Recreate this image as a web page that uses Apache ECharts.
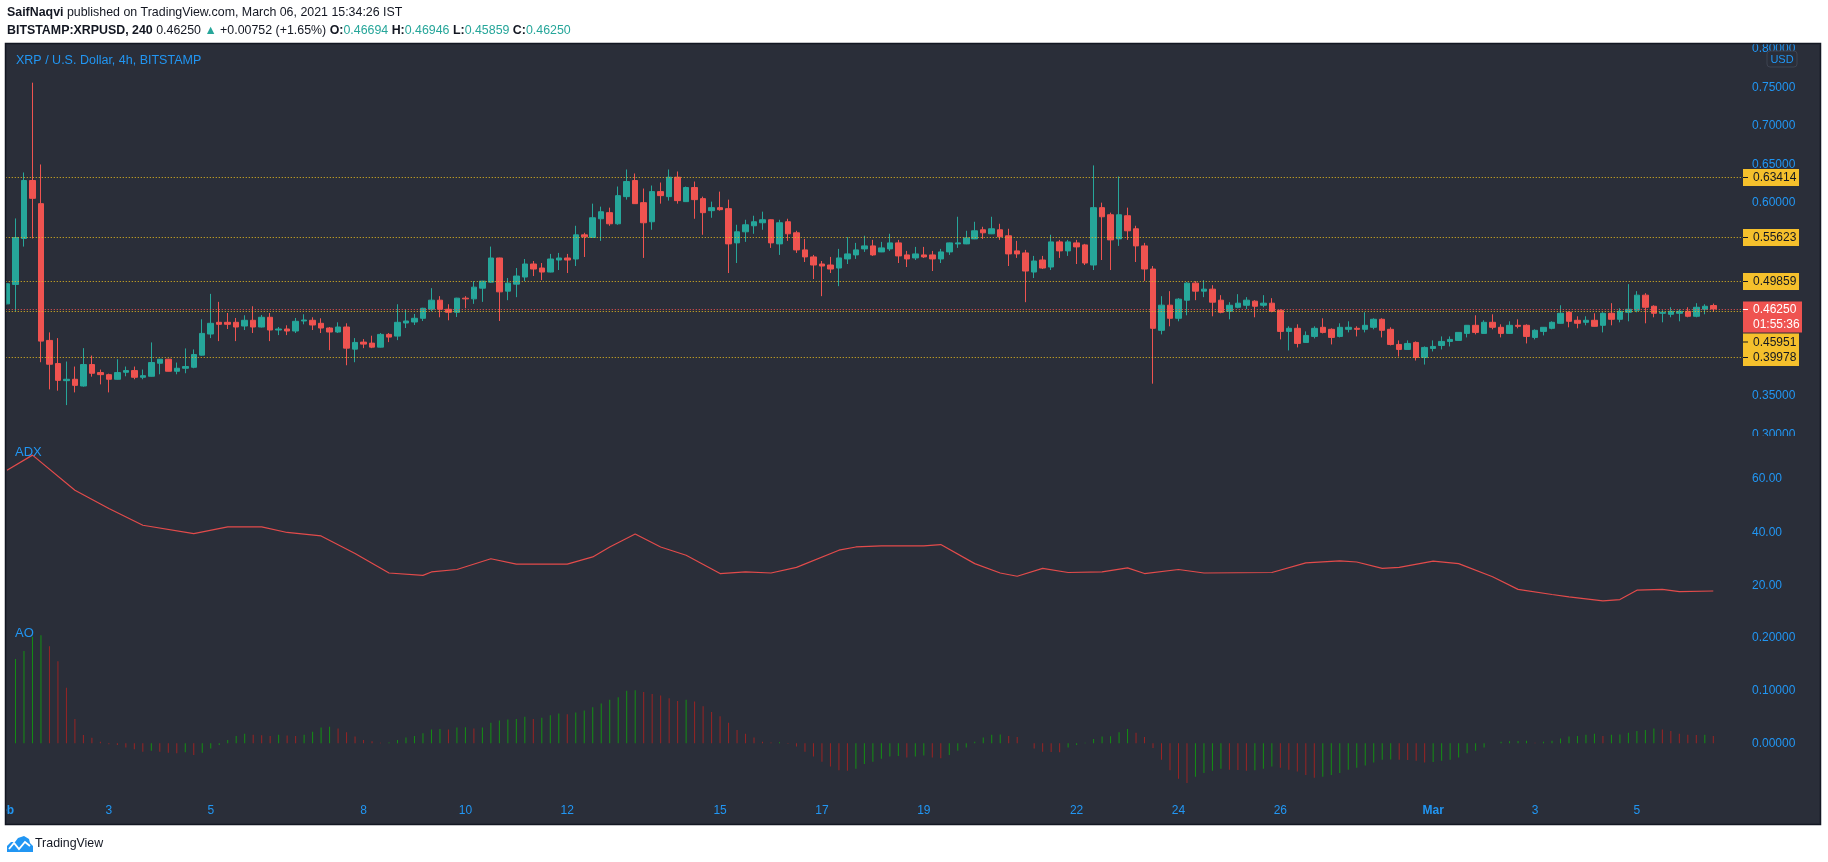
<!DOCTYPE html>
<html><head><meta charset="utf-8">
<script src="https://cdn.jsdelivr.net/npm/echarts@6/dist/echarts.min.js"></script>
<style>html,body{margin:0;padding:0;background:#fff;overflow:hidden}#c{width:1828px;height:862px}</style>
</head><body><div id="c"></div>
<script>
// ---------- DATA ----------
// 4h candles, Feb 1 2021 .. Mar 6 2021 : [open, high, low, close]
const candles = [
[0.4691,0.4960,0.4685,0.4952],[0.4943,0.5799,0.4595,0.5552],[0.5539,0.6395,0.5434,0.6291],[0.6291,0.7560,0.5539,0.6060],[0.5991,0.6499,0.3934,0.4208],
[0.4217,0.4321,0.3582,0.3908],[0.3917,0.4247,0.3565,0.3699],[0.3695,0.3943,0.3378,0.3713],[0.3713,0.3878,0.3543,0.3634],[0.3626,0.4117,0.3617,0.3904],
[0.3904,0.4021,0.3747,0.3791],[0.3800,0.3839,0.3647,0.3773],[0.3773,0.3786,0.3543,0.3713],[0.3713,0.3973,0.3708,0.3800],[0.3804,0.3878,0.3752,0.3826],
[0.3826,0.3878,0.3713,0.3739],[0.3739,0.3839,0.3713,0.3760],[0.3752,0.4191,0.3748,0.3930],[0.3921,0.3975,0.3778,0.3973],[0.3973,0.3978,0.3815,0.3817],
[0.3817,0.3930,0.3778,0.3856],[0.3856,0.4113,0.3791,0.3878],[0.3869,0.4100,0.3856,0.4034],[0.4026,0.4491,0.4020,0.4308],[0.4300,0.4821,0.4247,0.4439],
[0.4452,0.4717,0.4208,0.4426],[0.4452,0.4573,0.4365,0.4426],[0.4452,0.4508,0.4208,0.4391],[0.4404,0.4543,0.4352,0.4478],[0.4478,0.4660,0.4313,0.4391],
[0.4391,0.4547,0.4385,0.4517],[0.4517,0.4573,0.4208,0.4352],[0.4352,0.4391,0.4286,0.4365],[0.4365,0.4413,0.4286,0.4339],[0.4339,0.4508,0.4313,0.4465],
[0.4469,0.4556,0.4426,0.4482],[0.4478,0.4517,0.4352,0.4417],[0.4439,0.4504,0.4313,0.4378],[0.4378,0.4391,0.4091,0.4326],[0.4326,0.4452,0.4313,0.4391],
[0.4391,0.4439,0.3895,0.4117],[0.4104,0.4247,0.3934,0.4191],[0.4195,0.4234,0.4117,0.4169],[0.4182,0.4278,0.4117,0.4130],[0.4130,0.4313,0.4125,0.4295],
[0.4295,0.4313,0.4195,0.4260],[0.4273,0.4686,0.4221,0.4452],[0.4443,0.4621,0.4378,0.4469],[0.4456,0.4560,0.4417,0.4504],[0.4504,0.4640,0.4469,0.4634],
[0.4621,0.4895,0.4595,0.4739],[0.4739,0.4791,0.4517,0.4621],[0.4621,0.4686,0.4478,0.4582],[0.4582,0.4770,0.4521,0.4765],[0.4765,0.4791,0.4634,0.4756],
[0.4756,0.4986,0.4691,0.4908],[0.4895,0.4990,0.4717,0.4986],[0.4973,0.5434,0.4965,0.5286],[0.5286,0.5290,0.4469,0.4847],[0.4856,0.5026,0.4739,0.4960],
[0.4947,0.5156,0.4778,0.5052],[0.5039,0.5273,0.4986,0.5208],[0.5208,0.5247,0.5052,0.5143],[0.5156,0.5221,0.4999,0.5104],[0.5104,0.5339,0.5100,0.5273],
[0.5260,0.5352,0.5130,0.5286],[0.5286,0.5339,0.5091,0.5260],[0.5273,0.5704,0.5182,0.5586],[0.5586,0.5613,0.5299,0.5560],[0.5552,0.5991,0.5548,0.5808],
[0.5795,0.5952,0.5508,0.5886],[0.5874,0.5939,0.5704,0.5730],[0.5730,0.6213,0.5717,0.6095],[0.6082,0.6434,0.6043,0.6278],[0.6291,0.6382,0.5987,0.5991],
[0.6004,0.6187,0.5287,0.5743],[0.5756,0.6226,0.5652,0.6147],[0.6147,0.6265,0.5991,0.6095],[0.6082,0.6434,0.6030,0.6334],[0.6334,0.6408,0.5991,0.6030],
[0.6017,0.6213,0.6013,0.6200],[0.6200,0.6278,0.5795,0.6043],[0.6056,0.6082,0.5587,0.5874],[0.5900,0.6017,0.5808,0.5939],[0.5939,0.6147,0.5900,0.5913],
[0.5926,0.6043,0.5091,0.5469],[0.5482,0.5717,0.5221,0.5626],[0.5626,0.5782,0.5495,0.5717],[0.5704,0.5834,0.5600,0.5756],[0.5743,0.5887,0.5652,0.5782],
[0.5782,0.5787,0.5417,0.5482],[0.5469,0.5782,0.5326,0.5743],[0.5756,0.5795,0.5508,0.5600],[0.5613,0.5639,0.5352,0.5391],[0.5391,0.5534,0.5234,0.5300],
[0.5300,0.5326,0.5013,0.5195],[0.5208,0.5247,0.4791,0.5182],[0.5195,0.5300,0.5091,0.5143],[0.5156,0.5404,0.4921,0.5287],[0.5274,0.5556,0.5208,0.5339],
[0.5326,0.5482,0.5274,0.5391],[0.5404,0.5574,0.5365,0.5443],[0.5443,0.5521,0.5313,0.5326],[0.5365,0.5495,0.5362,0.5417],[0.5404,0.5600,0.5378,0.5482],
[0.5482,0.5521,0.5221,0.5313],[0.5326,0.5378,0.5169,0.5274],[0.5287,0.5430,0.5260,0.5339],[0.5326,0.5430,0.5287,0.5300],[0.5326,0.5378,0.5117,0.5274],
[0.5274,0.5404,0.5221,0.5365],[0.5365,0.5486,0.5326,0.5482],[0.5469,0.5821,0.5417,0.5482],[0.5469,0.5639,0.5465,0.5547],[0.5534,0.5756,0.5530,0.5639],
[0.5652,0.5691,0.5534,0.5613],[0.5600,0.5821,0.5596,0.5665],[0.5652,0.5730,0.5521,0.5561],[0.5574,0.5665,0.5182,0.5339],[0.5378,0.5508,0.5287,0.5339],
[0.5352,0.5391,0.4713,0.5117],[0.5104,0.5313,0.5026,0.5247],[0.5260,0.5313,0.5143,0.5156],[0.5169,0.5587,0.5130,0.5495],[0.5495,0.5521,0.5287,0.5378],
[0.5378,0.5521,0.5313,0.5495],[0.5482,0.5521,0.5208,0.5430],[0.5456,0.5469,0.5195,0.5221],[0.5195,0.6487,0.5130,0.5939],[0.5939,0.6004,0.5260,0.5821],
[0.5847,0.5874,0.5130,0.5521],[0.5534,0.6343,0.5443,0.5847],[0.5834,0.5939,0.5521,0.5639],[0.5665,0.5704,0.5234,0.5443],[0.5443,0.5482,0.4987,0.5143],
[0.5143,0.5182,0.3656,0.4374],[0.4348,0.4791,0.4295,0.4674],[0.4674,0.4856,0.4400,0.4504],[0.4504,0.4765,0.4465,0.4752],[0.4739,0.4973,0.4543,0.4960],
[0.4960,0.4987,0.4739,0.4856],[0.4856,0.4999,0.4778,0.4882],[0.4882,0.4934,0.4530,0.4713],[0.4739,0.4804,0.4569,0.4582],[0.4595,0.4713,0.4491,0.4673],
[0.4647,0.4817,0.4634,0.4700],[0.4673,0.4778,0.4621,0.4739],[0.4726,0.4739,0.4517,0.4660],[0.4673,0.4804,0.4647,0.4700],[0.4700,0.4765,0.4582,0.4595],
[0.4608,0.4621,0.4230,0.4334],[0.4334,0.4400,0.4087,0.4374],[0.4374,0.4426,0.4126,0.4178],[0.4191,0.4334,0.4187,0.4282],[0.4269,0.4400,0.4243,0.4374],
[0.4387,0.4504,0.4308,0.4321],[0.4361,0.4374,0.4165,0.4256],[0.4269,0.4439,0.4256,0.4387],[0.4361,0.4465,0.4321,0.4387],[0.4374,0.4400,0.4269,0.4361],
[0.4361,0.4582,0.4321,0.4413],[0.4387,0.4504,0.4361,0.4491],[0.4491,0.4504,0.4256,0.4348],[0.4361,0.4387,0.4152,0.4165],[0.4165,0.4217,0.4008,0.4100],
[0.4100,0.4217,0.4096,0.4178],[0.4191,0.4204,0.3956,0.3995],[0.3995,0.4139,0.3904,0.4126],[0.4113,0.4217,0.4074,0.4139],[0.4152,0.4269,0.4100,0.4204],
[0.4204,0.4269,0.4139,0.4230],[0.4217,0.4325,0.4213,0.4321],[0.4308,0.4417,0.4256,0.4413],[0.4413,0.4543,0.4295,0.4321],[0.4308,0.4478,0.4304,0.4452],
[0.4452,0.4556,0.4361,0.4387],[0.4387,0.4426,0.4256,0.4308],[0.4308,0.4465,0.4304,0.4413],[0.4413,0.4491,0.4374,0.4400],[0.4413,0.4426,0.4178,0.4269],
[0.4256,0.4361,0.4230,0.4348],[0.4334,0.4391,0.4282,0.4387],[0.4374,0.4465,0.4361,0.4452],[0.4439,0.4673,0.4435,0.4569],[0.4582,0.4595,0.4387,0.4465],
[0.4478,0.4530,0.4374,0.4439],[0.4452,0.4530,0.4413,0.4478],[0.4478,0.4569,0.4396,0.4400],[0.4413,0.4582,0.4321,0.4569],[0.4569,0.4700,0.4413,0.4491],
[0.4491,0.4634,0.4452,0.4595],[0.4582,0.4947,0.4465,0.4621],[0.4608,0.4856,0.4582,0.4804],[0.4804,0.4830,0.4439,0.4647],[0.4660,0.4673,0.4517,0.4569],
[0.4569,0.4608,0.4452,0.4582],[0.4556,0.4647,0.4517,0.4595],[0.4569,0.4621,0.4465,0.4595],[0.4595,0.4647,0.4517,0.4530],[0.4530,0.4700,0.4517,0.4647],
[0.4621,0.4686,0.4556,0.4660],[0.46694,0.46946,0.45859,0.46250]
];

// ADX (read at candle index -> value)
const adxIndex = [0,3,8,12,16,22,26,30,33,37,41,45,49,50,53,57,60,66,69,71,74,77,80,84,87,90,93,98,100,103,108,110,114,117,119,122,125,129,132,134,138,141,149,153,157,159,162,164,168,171,175,178,182,184,188,190,192,195,197,201];
const adxValue = [63.1,68.7,55.6,48.8,42.6,39.5,42.0,42.0,39.9,38.6,32.1,24.8,23.9,25.2,26.1,30.1,28.1,28.1,30.8,34.5,39.3,34.5,31.4,24.6,25.2,24.8,26.9,33.3,34.5,34.9,34.9,35.4,28.3,24.8,23.6,26.5,25.0,25.2,26.7,24.6,26.1,24.8,25.0,28.6,29.3,28.9,26.5,26.9,29.2,28.3,23.4,18.7,16.8,15.9,14.4,14.9,18.4,18.7,17.9,18.1];

// Awesome Oscillator, one value per candle
const aoValues = [null,0.159,0.174,0.201,0.204,0.183,0.155,0.105,0.046,0.0157,0.0107,
0.003,-0.002,-0.003,-0.008,-0.011,-0.016,-0.014,-0.016,-0.018,-0.019,
-0.017,-0.022,-0.018,-0.010,-0.003,0.006,0.014,0.018,0.016,0.015,
0.014,0.016,0.0145,0.014,0.016,0.022,0.030,0.031,0.028,0.021,
0.0126,0.006,0.004,0.001,0.0015,0.006,0.011,0.014,0.019,0.026,
0.027,0.026,0.030,0.0305,0.028,0.030,0.039,0.043,0.045,0.046,
0.050,0.046,0.048,0.053,0.056,0.055,0.058,0.062,0.068,0.075,
0.082,0.087,0.099,0.100,0.097,0.093,0.090,0.085,0.080,0.082,
0.079,0.070,0.059,0.051,0.039,0.025,0.018,0.011,0.003,0.0015,
0.002,-0.001,-0.006,-0.016,-0.025,-0.035,-0.044,-0.051,-0.052,-0.048,
-0.039,-0.035,-0.029,-0.025,-0.024,-0.027,-0.025,-0.023,-0.027,-0.028,
-0.022,-0.014,-0.008,0.003,0.011,0.016,0.0165,0.014,0.012,0.000,
-0.010,-0.016,-0.0165,-0.017,-0.008,-0.003,0.001,0.008,0.013,0.0135,
0.021,0.027,0.020,0.012,-0.009,-0.031,-0.051,-0.067,-0.075,-0.063,
-0.056,-0.052,-0.048,-0.050,-0.0505,-0.052,-0.051,-0.048,-0.044,-0.046,
-0.050,-0.053,-0.060,-0.065,-0.063,-0.060,-0.056,-0.050,-0.046,-0.042,
-0.036,-0.031,-0.0305,-0.031,-0.0315,-0.033,-0.036,-0.0355,-0.033,-0.031,
-0.027,-0.019,-0.014,-0.008,0.000,0.003,0.004,0.0045,0.0046,0.001,
0.003,0.005,0.009,0.013,0.014,0.016,0.018,0.014,0.016,0.0165,
0.020,0.023,0.025,0.028,0.026,0.023,0.018,0.016,0.0155,0.016,
0.014];

// horizontal levels and current price
const levelValues = [0.63414, 0.55623, 0.49859, 0.45951, 0.39978];
const currentPrice = 0.46250;
const countdownText = '01:55:36';

// x tick labels (days since Feb 1, 6 candles per day)
const xTickLabels = ['Feb','3','5','8','10','12','15','17','19','22','24','26','Mar','3','5'];
const xTickDays   = [0,2,4,7,9,11,14,16,18,21,23,25,28,30,32];
const monthLabels = ['Feb','Mar'];

// price / indicator axis ranges & ticks
const priceTicks = {min: 0.30, max: 0.80, step: 0.05};
const adxTicks = {min: 0, max: 80, step: 20, shown: [20, 40, 60]};
const aoTicks = {min: -0.1, max: 0.3, step: 0.1, shown: [0, 0.1, 0.2]};

// ---------- CHART ----------
const BG = '#2a2e39', BORDER = '#131722', BLUE = '#2196f3';
const UP = '#26a69a', DOWN = '#ef5350', YEL = '#f5c02c', YEL_LINE = '#e9bd1f';
const AO_UP = '#148f14', AO_DN = '#9a2424', ADX_COL = '#e24b4b';
const FONT = "'Liberation Sans',Arial,sans-serif";
const HFONT = "'Liberation Sans',Arial,sans-serif";

const N_CAT = 205;
const cats = [];
const tickMap = {};
for (let i = 0; i < N_CAT; i++) cats.push('c' + i);
// the first (cut-off) label at the left edge is drawn separately
xTickDays.forEach((d, k) => { if (d > 0) tickMap[d * 6] = xTickLabels[k]; });

const GL = 2.755, GR = 85;
const grids = [
  {left: GL, right: GR, top: 48.75, bottom: 862 - 434.25},
  {left: GL, right: GR, top: 424.8, bottom: 862 - 639.6},
  {left: GL, right: GR, top: 584.3, bottom: 862 - 796.3}
];

function xAxis(i, showLabels) {
  return {
    type: 'category', gridIndex: i, data: cats, boundaryGap: true,
    axisLine: {show: false}, axisTick: {show: false}, splitLine: {show: false},
    axisLabel: showLabels ? {
      show: true, margin: 8, color: BLUE, fontSize: 12, fontFamily: FONT,
      interval: (idx) => tickMap[idx] !== undefined,
      formatter: (v, idx) => {
        const t = tickMap[idx];
        if (t === undefined) return '';
        return monthLabels.includes(t) ? '{m|' + t + '}' : t;
      },
      rich: {m: {fontWeight: 'bold', color: BLUE, fontSize: 12, fontFamily: FONT}}
    } : {show: false}
  };
}
function yAxis(i, cfg, fmt) {
  return {
    type: 'value', gridIndex: i, position: 'right', min: cfg.min, max: cfg.max, interval: cfg.step,
    axisLine: {show: false}, axisTick: {show: false}, splitLine: {show: false},
    axisLabel: {margin: 9, color: BLUE, fontSize: 12, fontFamily: FONT, formatter: fmt}
  };
}

const tagData = levelValues.concat([currentPrice]).map(v => [0, v]);

function renderTag(params, api) {
  const v = api.value(1);
  const isCur = params.dataIndex === levelValues.length;
  const cs = params.coordSys;
  const xL = cs.x, xR = cs.x + cs.width;
  const y = Math.round(api.coord([0, v])[1]) + 0.5;
  const yCur = Math.round(api.coord([0, currentPrice])[1]) + 0.5;
  const curTop = yCur - 8, curH = 31;
  let boxH = isCur ? curH : 17, boxTop = isCur ? curTop : y - boxH / 2;
  if (!isCur && boxTop < curTop + curH && boxTop + boxH > curTop) boxTop = curTop + curH + 1;
  const mid = isCur ? yCur : boxTop + boxH / 2;
  const txtCol = isCur ? '#ffffff' : '#131722';
  const children = [
    {type: 'line', shape: {x1: xL, y1: y, x2: xR, y2: y},
     style: {stroke: isCur ? DOWN : YEL_LINE, lineWidth: 1, lineDash: [1, 2]}},
    {type: 'rect', shape: {x: xR, y: boxTop, width: isCur ? 59 : 56, height: boxH},
     style: {fill: isCur ? DOWN : YEL}},
    {type: 'line', shape: {x1: xR, y1: mid, x2: xR + 5, y2: mid}, style: {stroke: txtCol, lineWidth: 1}},
    {type: 'text', style: {text: v.toFixed(5), x: xR + 10, y: mid + 0.5, fill: txtCol,
      fontSize: 12, fontFamily: FONT, verticalAlign: 'middle', align: 'left'}}
  ];
  if (isCur) children.push({type: 'text', style: {text: countdownText, x: xR + 10, y: mid + 15, fill: txtCol,
      fontSize: 12, fontFamily: FONT, verticalAlign: 'middle', align: 'left'}});
  return {type: 'group', children};
}

const chart = echarts.init(document.getElementById('c'), null, {renderer: 'canvas'});
const graphics = [
    {type: 'rect', z: -100, shape: {x: 5, y: 43, width: 1816, height: 782}, style: {fill: BG}},
    {type: 'rect', z: 100, shape: {x: 1745, y: 436, width: 70, height: 7}, style: {fill: BG}},
    {type: 'rect', z: 100, shape: {x: 0, y: 43, width: 5.5, height: 790}, style: {fill: '#ffffff'}},
    {type: 'rect', z: 101, shape: {x: 5.5, y: 43.5, width: 1815, height: 781}, style: {fill: 'none', stroke: BORDER, lineWidth: 1.5}},
    {type: 'text', z: 101, x: 7, y: 13, style: {
      text: '{b|SaifNaqvi} published on TradingView.com, March 06, 2021 15:34:26 IST',
      fill: '#131722', fontSize: 12.4, fontFamily: HFONT, verticalAlign: 'middle',
      rich: {b: {fontWeight: 'bold', fontSize: 12.4, fontFamily: HFONT, fill: '#131722'}}}},
    {type: 'text', z: 101, x: 7, y: 31, style: {
      text: '{b|BITSTAMP:XRPUSD, 240} 0.46250 {g|▲} +0.00752 (+1.65%) {b|O:}{g|0.46694} {b|H:}{g|0.46946} {b|L:}{g|0.45859} {b|C:}{g|0.46250}',
      fill: '#131722', fontSize: 12.4, fontFamily: HFONT, verticalAlign: 'middle',
      rich: {b: {fontWeight: 'bold', fontSize: 12.4, fontFamily: HFONT, fill: '#131722'},
             g: {fontSize: 12.4, fontFamily: HFONT, fill: '#26a69a'}}}},
    {type: 'text', z: 101, x: 16, y: 61, style: {text: 'XRP / U.S. Dollar, 4h, BITSTAMP', fill: BLUE,
      fontSize: 12.5, fontFamily: FONT, verticalAlign: 'middle'}},
    {type: 'text', z: 101, x: 15, y: 452, style: {text: 'ADX', fill: BLUE, fontSize: 13, fontFamily: FONT, verticalAlign: 'middle'}},
    {type: 'text', z: 101, x: 15, y: 633, style: {text: 'AO', fill: BLUE, fontSize: 13, fontFamily: FONT, verticalAlign: 'middle'}},
    {type: 'rect', z: 101, shape: {x: 1767, y: 51, width: 30, height: 16, r: 3}, style: {fill: BG, stroke: '#3d4250', lineWidth: 1}},
    {type: 'text', z: 102, x: 1782, y: 59.5, style: {text: 'USD', fill: BLUE, fontSize: 11, fontFamily: FONT, align: 'center', verticalAlign: 'middle'}},
    {type: 'polygon', z: 101, shape: {points: [[7,852],[7,846],[11,842],[15,842],[18,838],[24,836],[29,839],[30,843],[33,846],[33,852]]},
      style: {fill: '#2196f3'}},
    {type: 'polyline', z: 102, shape: {points: [[9, 849], [14, 843], [19, 849], [25, 842], [30, 846]]},
      style: {stroke: '#ffffff', lineWidth: 1.8, fill: 'none'}},
    {type: 'text', z: 101, x: 35, y: 844, style: {text: 'TradingView', fill: '#131722', fontSize: 12.4, fontFamily: HFONT, verticalAlign: 'middle'}}
];
chart.setOption({
  animation: false,
  backgroundColor: '#ffffff',
  grid: grids,
  xAxis: [xAxis(0, false), xAxis(1, false), xAxis(2, true)],
  yAxis: [
    yAxis(0, priceTicks, v => v.toFixed(5)),
    yAxis(1, adxTicks, v => adxTicks.shown.some(s => Math.abs(s - v) < 1e-9) ? v.toFixed(2) : ''),
    yAxis(2, aoTicks, v => aoTicks.shown.some(s => Math.abs(s - v) < 1e-9) ? v.toFixed(5) : '')
  ],
  series: [
    {
      type: 'candlestick', xAxisIndex: 0, yAxisIndex: 0, barWidth: 6, z: 2,
      data: candles.map(c => [c[0], c[3], c[2], c[1]]),
      itemStyle: {color: UP, color0: DOWN, borderColor: UP, borderColor0: DOWN, borderWidth: 1}
    },
    {
      type: 'custom', xAxisIndex: 0, yAxisIndex: 0, z: 5, clip: false, silent: true,
      data: tagData, renderItem: renderTag
    },
    {
      type: 'line', xAxisIndex: 1, yAxisIndex: 1, showSymbol: false, symbol: 'none', z: 3,
      data: adxIndex.map((x, k) => [x, adxValue[k]]),
      lineStyle: {color: ADX_COL, width: 1.2}
    },
    {
      type: 'bar', xAxisIndex: 2, yAxisIndex: 2, barWidth: 1, z: 3,
      data: aoValues,
      itemStyle: {color: (p) => {
        const i = p.dataIndex, prev = i > 0 ? aoValues[i - 1] : null;
        return (prev === null || aoValues[i] >= prev) ? AO_UP : AO_DN;
      }}
    }
  ],
  graphic: graphics
});
// first month label sits on the pane's left edge and is cut by the frame
const firstPx = chart.convertToPixel({xAxisIndex: 2}, xTickDays[0] * 6);
graphics.push({type: 'text', z: 99, x: firstPx - 3.5, y: 810.7, style: {text: xTickLabels[0], fill: BLUE,
  fontSize: 12, fontWeight: 'bold', fontFamily: FONT, align: 'center', verticalAlign: 'middle'}});
chart.setOption({graphic: graphics}, {replaceMerge: ['graphic']});
</script>
</body></html>
